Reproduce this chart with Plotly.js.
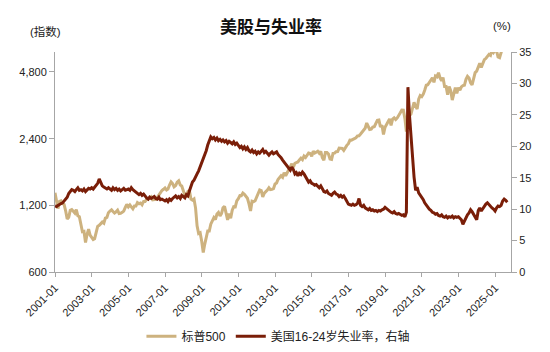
<!DOCTYPE html>
<html>
<head>
<meta charset="utf-8">
<script src="https://cdn.plot.ly/plotly-3.0.1.min.js"></script>
<style>html,body{margin:0;padding:0;background:#fff;}#chart{width:550px;height:352px;}</style>
</head>
<body>
<div id="chart"></div>
<script>
// Monthly series starting 2001-01
const startYear = 2001;
const spxName = "标普500";
const unempName = "美国16-24岁失业率，右轴";
const leftTicks = [600, 1200, 2400, 4800];
const rightTicks = [0, 5, 10, 15, 20, 25, 30, 35];

// S&P 500 monthly level (2001-01 .. 2025-06)
const spx = [
  1366,1240,1160,1249,1256,1224,1211,1134,1041,1060,1139,1148,
  1130,1107,1147,1076,1067,990,912,916,815,886,936,880,
  856,841,848,917,964,975,990,1008,996,1051,1058,1112,
  1131,1145,1126,1107,1121,1141,1102,1104,1115,1130,1174,1212,
  1181,1204,1181,1157,1192,1191,1234,1220,1229,1207,1249,1248,
  1280,1281,1295,1311,1270,1270,1277,1304,1336,1378,1401,1418,
  1438,1407,1421,1482,1531,1503,1455,1474,1527,1549,1481,1468,
  1379,1331,1323,1386,1400,1280,1267,1283,1166,969,896,903,
  826,735,798,873,919,919,987,1021,1057,1036,1096,1115,
  1074,1104,1169,1187,1089,1031,1102,1049,1141,1183,1181,1258,
  1286,1327,1326,1364,1345,1321,1292,1219,1131,1253,1247,1258,
  1312,1366,1408,1398,1310,1362,1379,1407,1441,1412,1416,1426,
  1498,1515,1569,1598,1631,1606,1686,1633,1682,1757,1806,1848,
  1783,1859,1872,1884,1924,1960,1931,2003,1972,2018,2068,2059,
  1995,2105,2068,2086,2107,2063,2104,1972,1920,2079,2080,2044,
  1940,1932,2060,2065,2097,2099,2174,2171,2168,2126,2199,2239,
  2279,2364,2363,2384,2412,2423,2470,2472,2519,2575,2648,2674,
  2824,2714,2641,2648,2705,2718,2816,2902,2914,2712,2760,2507,
  2704,2784,2834,2946,2752,2942,2980,2926,2977,3038,3141,3231,
  3226,2954,2585,2912,3044,3100,3271,3500,3363,3270,3622,3756,
  3714,3811,3973,4181,4204,4298,4395,4523,4308,4605,4567,4766,
  4516,4374,4530,4132,4132,3785,4130,3955,3586,3872,4080,3840,
  4077,3970,4109,4169,4180,4450,4589,4508,4288,4194,4568,4770,
  4846,5096,5254,5036,5278,5460,5522,5648,5762,5705,6032,5882,
  6040,5955,5612,5569,5912,6205
];

// US 16-24 unemployment rate, % (2001-01 .. 2025-09)
const unemp = [
  10.5,10.4,10.6,10.8,10.9,11.0,11.3,11.6,11.9,12.5,12.9,13.1,
  13.0,12.8,13.1,13.4,13.0,13.1,12.9,13.2,12.8,13.1,13.3,13.2,
  13.4,13.2,13.5,13.8,14.1,14.8,14.1,13.7,13.5,13.3,13.2,13.4,
  13.2,13.0,13.4,13.1,13.3,13.0,13.2,12.9,13.1,13.3,13.0,13.1,
  13.2,13.0,13.4,13.1,12.9,12.7,12.6,12.3,12.5,12.2,12.4,12.0,
  11.8,11.6,11.9,11.7,11.8,12.0,11.7,11.6,11.9,11.5,11.6,11.4,
  11.3,11.5,11.2,11.6,11.4,11.7,11.9,12.1,11.8,12.0,11.7,12.2,
  12.0,11.8,12.3,12.1,12.9,13.6,14.3,14.6,15.0,15.6,16.1,16.7,
  17.4,17.9,18.5,19.3,20.2,20.8,21.5,21.2,21.4,21.0,21.3,20.9,
  21.1,20.8,21.0,20.7,20.9,20.5,20.8,20.6,20.4,20.7,20.3,20.5,
  20.1,19.8,20.0,19.6,19.9,19.5,19.8,19.3,19.1,19.4,19.0,19.2,
  18.8,19.1,18.9,19.3,19.5,19.0,19.2,18.9,18.6,18.9,19.1,18.8,
  18.9,19.1,18.7,18.5,18.2,17.8,17.5,17.3,16.8,16.5,16.2,16.7,
  16.3,15.6,15.8,15.3,15.7,15.5,15.9,15.6,15.2,14.6,14.3,14.5,
  14.1,14.0,13.8,13.9,13.6,13.4,13.7,13.3,12.8,12.7,12.9,12.5,
  12.3,12.2,12.5,12.7,12.4,12.3,12.0,12.2,11.9,12.1,11.7,11.3,
  10.8,10.7,10.6,10.8,10.6,10.7,10.9,11.7,10.6,10.4,10.6,10.2,
  10.0,9.9,10.1,9.8,9.9,9.7,9.8,9.6,9.8,9.7,9.9,10.0,
  10.3,10.1,9.8,9.6,9.5,9.4,9.6,9.3,9.2,9.3,9.1,9.0,
  9.1,8.8,9.5,29.4,25.0,21.5,18.0,15.1,13.0,13.5,12.6,12.3,
  11.8,11.5,11.0,10.6,10.3,10.0,9.8,9.5,9.4,9.2,9.3,9.0,
  8.9,9.1,8.8,8.7,8.9,8.6,8.8,8.7,8.9,8.6,8.8,8.7,
  8.8,8.6,8.3,7.6,8.2,8.7,9.1,9.4,9.9,9.6,9.2,8.6,
  8.3,9.8,10.2,9.7,10.1,10.5,10.8,11.0,10.7,10.4,10.2,10.0,
  9.7,10.2,10.5,10.4,10.6,11.3,11.6,11.4,11.1
];

function monthDates(n) {
  const out = [];
  for (let i = 0; i < n; i++) {
    const y = startYear + Math.floor(i / 12);
    const m = (i % 12) + 1;
    out.push(y + "-" + (m < 10 ? "0" + m : m) + "-01");
  }
  return out;
}

const cjk = '"Liberation Sans", Arial, "Noto Sans CJK SC", sans-serif';
const axisColor = '#A6A6A6';

const traces = [
  {
    x: monthDates(spx.length), y: spx, name: spxName, type: 'scatter', mode: 'lines',
    line: {color: '#CDB27F', width: 3}, yaxis: 'y'
  },
  {
    x: monthDates(unemp.length), y: unemp, name: unempName, type: 'scatter', mode: 'lines',
    line: {color: '#7A1E08', width: 3}, yaxis: 'y2'
  }
];

const layout = {
  width: 550, height: 352,
  margin: {l: 55, r: 39, t: 52, b: 80},
  paper_bgcolor: '#fff', plot_bgcolor: '#fff',
  font: {family: cjk, size: 11, color: '#222'},
  showlegend: true,
  legend: {orientation: 'h', xref: 'paper', x: 0.49, xanchor: 'center',
           yref: 'container', y: 0.045, yanchor: 'middle',
           font: {size: 12, color: '#222'}, itemwidth: 30, tracegroupgap: 0},
  xaxis: {
    type: 'date', range: ['2001-01-01', '2025-11-14'],
    tick0: '2001-01-01', dtick: 'M24', tickformat: '%Y-%m', tickangle: -45,
    showgrid: false, zeroline: false, showline: true, linecolor: axisColor, linewidth: 1,
    ticks: 'outside', ticklen: 4, tickcolor: axisColor, tickfont: {size: 11, color: '#222'}
  },
  yaxis: {
    type: 'log', range: [Math.log10(600), Math.log10(5909)],
    tickvals: leftTicks, tickformat: ',d',
    showgrid: false, zeroline: false, showline: true, linecolor: axisColor, linewidth: 1,
    ticks: 'outside', ticklen: 5, tickcolor: axisColor, tickfont: {size: 11, color: '#222'}
  },
  yaxis2: {
    overlaying: 'y', side: 'right', range: [0, 35], tickvals: rightTicks,
    showgrid: false, zeroline: false, showline: true, linecolor: axisColor, linewidth: 1,
    ticks: 'outside', ticklen: 5, tickcolor: axisColor, tickfont: {size: 11, color: '#222'}
  },
  annotations: [
    {text: '美股与失业率', xref: 'paper', yref: 'paper', x: 0.474, y: 1.0, yshift: 27,
     xanchor: 'center', yanchor: 'middle', showarrow: false,
     font: {family: '"Noto Sans CJK SC", sans-serif', size: 17, color: '#111', weight: 'bold'}},
    {text: '(指数)', xref: 'paper', yref: 'paper', x: 0, xshift: -10, y: 1.0, yshift: 21,
     xanchor: 'center', yanchor: 'middle', showarrow: false,
     font: {family: cjk, size: 11.5, color: '#222'}},
    {text: '(%)', xref: 'paper', yref: 'paper', x: 1, xshift: -9, y: 1.0, yshift: 26,
     xanchor: 'center', yanchor: 'middle', showarrow: false,
     font: {family: cjk, size: 11.5, color: '#222'}}
  ]
};

Plotly.newPlot('chart', traces, layout, {displayModeBar: false, staticPlot: true});
</script>
</body>
</html>
